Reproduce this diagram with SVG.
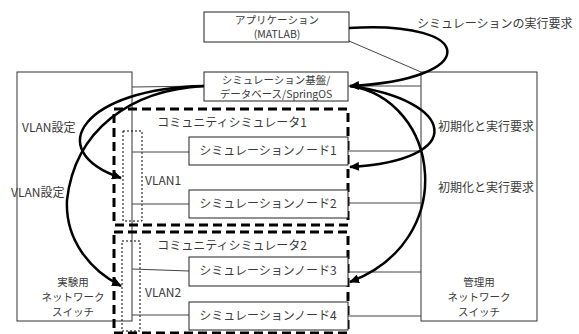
<svg xmlns="http://www.w3.org/2000/svg" width="579" height="334" viewBox="0 0 579 334">
<style>
.box{fill:none;stroke:#333;stroke-width:1}
.node{fill:#fff;stroke:#222;stroke-width:1}
.comm{fill:none;stroke:#000;stroke-width:3;stroke-dasharray:9 5}
.vlan{fill:none;stroke:#000;stroke-width:1;stroke-dasharray:2 2}
.thin{fill:none;stroke:#444;stroke-width:1}
.curve{fill:none;stroke:#000;stroke-width:2.5}
text{font-family:"Noto Sans CJK JP","Liberation Sans",sans-serif;font-size:12px;fill:#3a3a3a}
.m{text-anchor:middle}
.s{font-size:10.5px}
</style>
<defs>
<marker id="ah" markerUnits="userSpaceOnUse" markerWidth="11" markerHeight="9" refX="9" refY="4.5" orient="auto">
<path d="M0,0 L10,4.5 L0,9 z" fill="#000"/>
</marker>
</defs>
<g id="exp-switch"><rect class="box" x="17" y="72" width="115" height="249"/>
<text class="m s" x="73" y="286">実験用</text><text class="m s" x="73" y="301">ネットワーク</text><text class="m s" x="73" y="316">スイッチ</text></g>
<g id="mgmt-switch"><rect class="box" x="421" y="72" width="116" height="249"/>
<text class="m s" x="479" y="286">管理用</text><text class="m s" x="479" y="301">ネットワーク</text><text class="m s" x="479" y="316">スイッチ</text></g>
<g id="community1"><rect class="comm" x="114" y="109" width="234" height="116"/>
<text class="m" x="232" y="127">コミュニティシミュレータ1</text></g>
<g id="community2"><rect class="comm" x="114" y="232" width="234" height="101"/>
<text class="m" x="232" y="250">コミュニティシミュレータ2</text></g>
<g id="vlan1"><rect class="vlan" x="123" y="131" width="19" height="90"/><text x="145" y="185">VLAN1</text></g>
<g id="vlan2"><rect class="vlan" x="122" y="241" width="18" height="90"/><text x="145" y="297">VLAN2</text></g>
<g id="connectors">
<line class="thin" x1="349" y1="41" x2="421" y2="72"/>
<line class="thin" x1="348" y1="86" x2="421" y2="86"/>
<line class="thin" x1="132" y1="87" x2="204" y2="86"/>
<line class="thin" x1="132" y1="152" x2="189" y2="152"/>
<line class="thin" x1="132" y1="204" x2="189" y2="204"/>
<line class="thin" x1="132" y1="269" x2="189" y2="271"/>
<line class="thin" x1="132" y1="315" x2="189" y2="315"/>
<line class="thin" x1="348" y1="151" x2="421" y2="151"/>
<line class="thin" x1="348" y1="203" x2="421" y2="203"/>
<line class="thin" x1="348" y1="272" x2="421" y2="272"/>
<line class="thin" x1="348" y1="316" x2="421" y2="316"/>
</g>
<g id="app"><rect class="node" x="204" y="12" width="145" height="30"/>
<text class="m s" x="277" y="24">アプリケーション</text><text class="m s" x="277" y="38">(MATLAB)</text></g>
<g id="platform"><rect class="node" x="204" y="72" width="144" height="29"/>
<text class="m s" x="276" y="84">シミュレーション基盤/</text><text class="m s" x="276" y="98">データベース/SpringOS</text></g>
<g id="node1"><rect class="node" x="189" y="137" width="159" height="28"/><text class="m" x="268" y="155">シミュレーションノード1</text></g>
<g id="node2"><rect class="node" x="189" y="190" width="159" height="28"/><text class="m" x="268" y="208">シミュレーションノード2</text></g>
<g id="node3"><rect class="node" x="189" y="257" width="159" height="29"/><text class="m" x="268" y="275">シミュレーションノード3</text></g>
<g id="node4"><rect class="node" x="189" y="302" width="159" height="28"/><text class="m" x="268" y="320">シミュレーションノード4</text></g>
<g id="arrows">
<path class="curve" marker-end="url(#ah)" d="M349,28 C480,20 480,80 350,86"/>
<path class="curve" marker-end="url(#ah)" d="M350,86 C455,100 470,160 350,167"/>
<path class="curve" marker-end="url(#ah)" d="M350,86 C440,100 460,240 350,282"/>
<path class="curve" marker-end="url(#ah)" d="M204,86 C85,88 40,150 121,178"/>
<path class="curve" marker-end="url(#ah)" d="M204,86 C130,90 75,130 67,200 C65,240 90,270 121,286"/>
</g>
<g id="labels">
<text x="417" y="28">シミュレーションの実行要求</text>
<text x="438" y="131">初期化と実行要求</text>
<text x="438" y="192">初期化と実行要求</text>
<text x="22" y="132">VLAN設定</text>
<text x="11" y="197">VLAN設定</text>
</g>
</svg>
